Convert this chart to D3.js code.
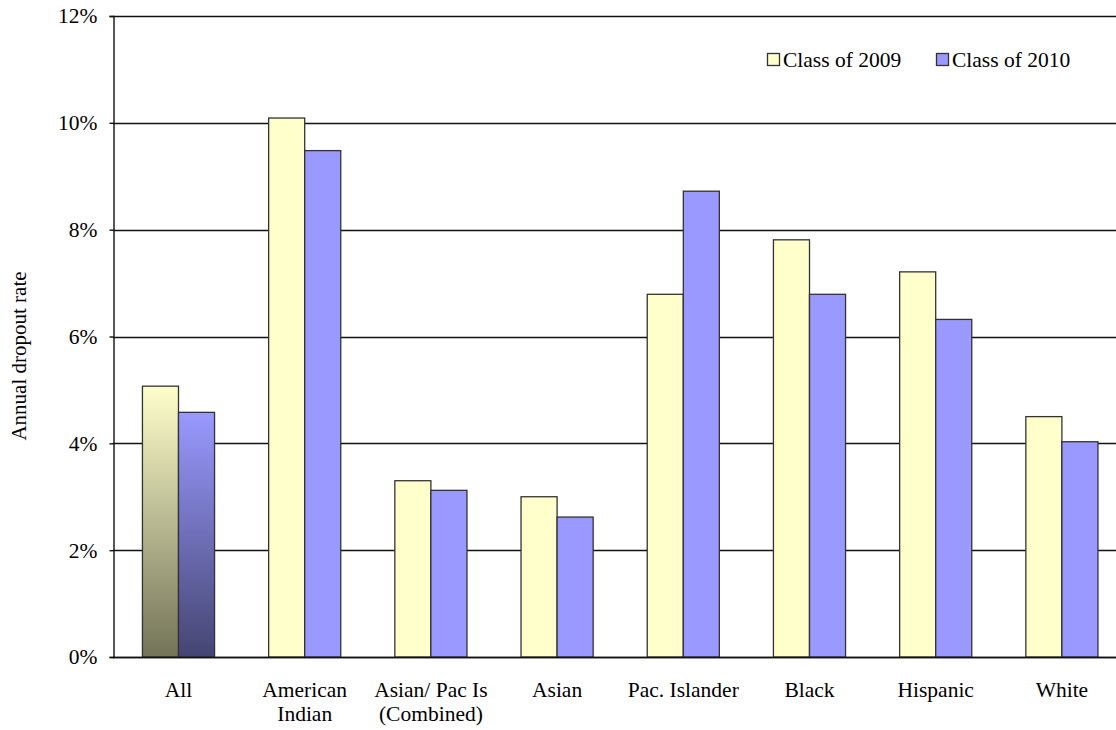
<!DOCTYPE html>
<html><head><meta charset="utf-8">
<script src="https://cdn.jsdelivr.net/npm/d3@7"></script>
<style>body{margin:0;background:#fff}svg{display:block}svg text{font-family:"Liberation Serif",Tinos,"Times New Roman","Nimbus Roman","DejaVu Serif",serif !important;fill:#000}</style>
</head><body><svg id="c" width="1116" height="730"></svg>
<script>
const categories = ["All", "American Indian", "Asian/ Pac Is (Combined)", "Asian", "Pac. Islander", "Black", "Hispanic", "White"];
const categoryLines = [["All"], ["American", "Indian"], ["Asian/ Pac Is", "(Combined)"], ["Asian"], ["Pac. Islander"], ["Black"], ["Hispanic"], ["White"]];
const seriesNames = ["Class of 2009", "Class of 2010"];
const class2009 = [5.07, 10.09, 3.30, 3.00, 6.79, 7.81, 7.21, 4.50];
const class2010 = [4.58, 9.48, 3.12, 2.62, 8.72, 6.79, 6.32, 4.03];
const yTicks = [0, 2, 4, 6, 8, 10, 12];
const yTickLabels = ["0%", "2%", "4%", "6%", "8%", "10%", "12%"];

const svg = d3.select("#c");
const axisX = 113, plotTop = 16, plotBottom = 657;
const FS = 21.5;
const x = d3.scaleBand().domain(categories).range([115.4, 1125]).paddingInner(0).paddingOuter(0);
const xs = d3.scaleBand().domain(seriesNames).range([0, x.bandwidth()]).paddingInner(0).paddingOuter(0.75);
const y = d3.scaleLinear().domain([0, 12]).range([plotBottom, plotTop]);

const defs = svg.append("defs");
const g1 = defs.append("linearGradient").attr("id", "gy").attr("x1", 0).attr("y1", 0).attr("x2", 0).attr("y2", 1);
g1.append("stop").attr("offset", "0%").attr("stop-color", "#ffffcc");
g1.append("stop").attr("offset", "100%").attr("stop-color", "#737358");
const g2 = defs.append("linearGradient").attr("id", "gb").attr("x1", 0).attr("y1", 0).attr("x2", 0).attr("y2", 1);
g2.append("stop").attr("offset", "0%").attr("stop-color", "#9999ff");
g2.append("stop").attr("offset", "100%").attr("stop-color", "#454572");

// gridlines
svg.append("g").selectAll("line").data(yTicks).join("line")
  .attr("x1", axisX).attr("x2", 1116)
  .attr("y1", d => Math.round(y(d)) + 0.5).attr("y2", d => Math.round(y(d)) + 0.5)
  .attr("stroke", "#111").attr("stroke-width", 1.4);

// bars
const colors = ["#ffffcc", "#9999ff"];
const grads = ["url(#gy)", "url(#gb)"];
const series = [class2009, class2010];
series.forEach((vals, si) => {
  svg.append("g").selectAll("rect").data(vals).join("rect")
    .attr("x", (d, i) => x(categories[i]) + xs(seriesNames[si]))
    .attr("width", xs.bandwidth())
    .attr("y", d => y(d))
    .attr("height", d => y(0) - y(d))
    .attr("fill", (d, i) => i === 0 ? grads[si] : colors[si])
    .attr("stroke", "#333").attr("stroke-width", 1.3);
});

// y axis
const yAxis = d3.axisLeft(y).tickValues(yTicks).tickFormat((d, i) => yTickLabels[i]).tickSizeOuter(0).tickSize(4).tickPadding(12);
const ya = svg.append("g").attr("transform", `translate(${axisX + 0.5},0)`).call(yAxis);
ya.attr("font-family", null);
ya.select(".domain").attr("stroke", "#111").attr("stroke-width", 1.4);
ya.selectAll(".tick line").attr("stroke", "#111").attr("stroke-width", 1.4);
ya.selectAll(".tick text").attr("font-size", FS).attr("fill", "#000");

// x axis baseline
svg.append("line").attr("x1", axisX).attr("x2", 1116).attr("y1", plotBottom + 0.5).attr("y2", plotBottom + 0.5).attr("stroke", "#111").attr("stroke-width", 1.4);

// category labels
const cl = svg.append("g").selectAll("text").data(categories).join("text")
  .attr("x", d => x(d) + x.bandwidth() / 2)
  .attr("y", 697)
  .attr("text-anchor", "middle").attr("font-size", FS);
cl.each(function(d, i) {
  const t = d3.select(this);
  categoryLines[i].forEach((ln, j) => {
    t.append("tspan").attr("x", x(d) + x.bandwidth() / 2).attr("dy", j === 0 ? 0 : 24).text(ln);
  });
});

// y title
svg.append("text").attr("transform", "translate(26,356) rotate(-90)")
  .attr("text-anchor", "middle").attr("font-size", 21).text("Annual dropout rate");

// legend
const legX = [767, 936];
seriesNames.forEach((n, i) => {
  svg.append("rect").attr("x", legX[i] + 0.5).attr("y", 53.5).attr("width", 12).attr("height", 12)
    .attr("fill", colors[i]).attr("stroke", "#333").attr("stroke-width", 1.3);
  svg.append("text").attr("x", legX[i] + 16).attr("y", 67).attr("font-size", FS).text(n);
});
</script></body></html>
